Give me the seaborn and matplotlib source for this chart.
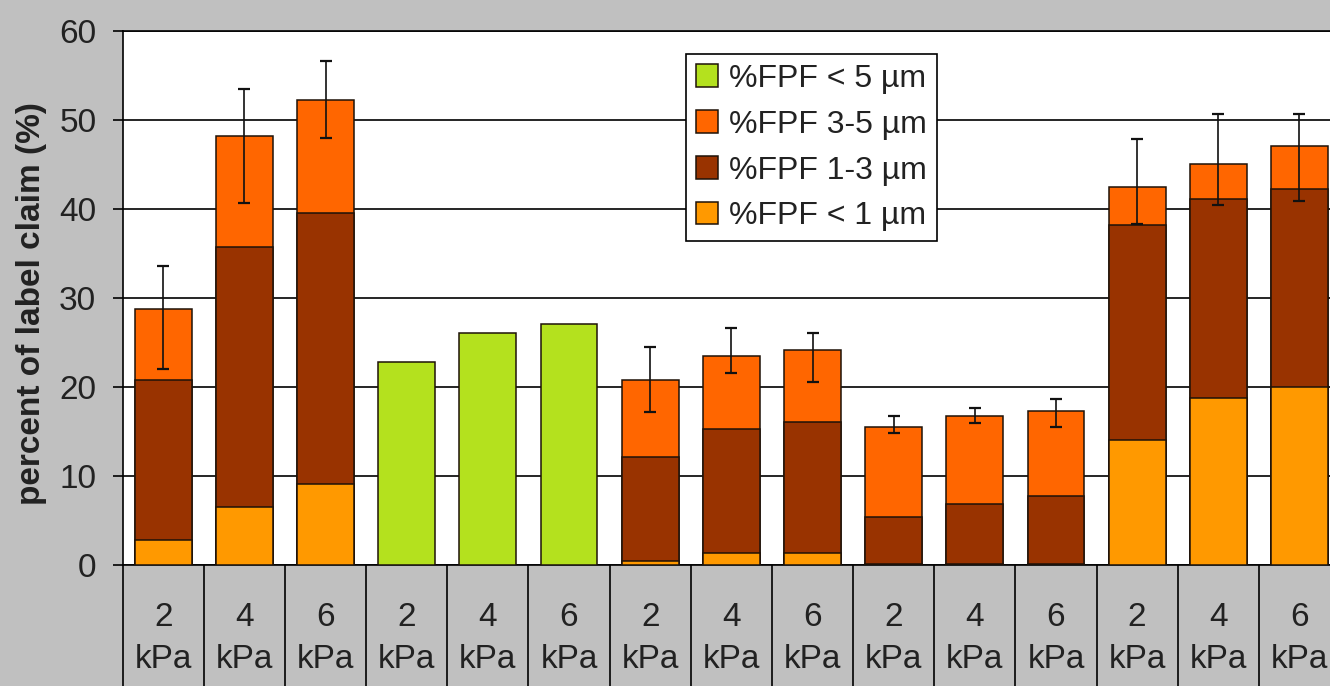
import numpy as np
import pandas as pd
import matplotlib
matplotlib.use("Agg")
import matplotlib.pyplot as plt
import seaborn as sns
from matplotlib.ticker import FixedLocator

# ---- data -------------------------------------------------------------
pressures = ["2", "4", "6"] * 5
tick_labels = [f"{p}\nkPa" for p in pressures]
slots = [f"s{i:02d}" for i in range(len(pressures))]

nan = np.nan
fpf_lt1 = [2.8, 6.5, 9.1, nan, nan, nan, 0.5, 1.4, 1.4, 0.1, 0.1, 0.1, 14.0, 18.8, 20.0]
fpf_1_3 = [18.0, 29.2, 30.4, nan, nan, nan, 11.6, 13.9, 14.7, 5.3, 6.7, 7.7, 24.2, 22.3, 22.3]
fpf_3_5 = [8.0, 12.5, 12.8, nan, nan, nan, 8.7, 8.2, 8.1, 10.1, 9.9, 9.5, 4.3, 4.0, 4.8]
fpf_lt5 = [nan, nan, nan, 22.8, 26.1, 27.1, nan, nan, nan, nan, nan, nan, nan, nan, nan]
err_minus = [6.8, 7.5, 4.3, nan, nan, nan, 3.6, 1.9, 3.6, 0.7, 0.7, 1.8, 4.2, 4.7, 6.2]
err_plus = [4.8, 5.3, 4.3, nan, nan, nan, 3.7, 3.1, 1.9, 1.2, 0.9, 1.35, 5.4, 5.6, 3.6]

series_names = ["%FPF < 5 µm", "%FPF 3-5 µm", "%FPF 1-3 µm", "%FPF < 1 µm"]
series_colors = ["#b4e11e", "#ff6600", "#993300", "#ff9900"]

# ---- stacked tops -------------------------------------------------------
lt1 = np.array(fpf_lt1)
top_1_3 = lt1 + np.array(fpf_1_3)
top_3_5 = top_1_3 + np.array(fpf_3_5)

df = pd.DataFrame({
    "slot": slots,
    "lt5": fpf_lt5,
    "top_3_5": top_3_5,
    "top_1_3": top_1_3,
    "top_lt1": lt1,
})

sns.set_theme(style="white")
plt.rcParams["font.family"] = ["Liberation Sans", "DejaVu Sans"]

W, H = 1330, 686
fig = plt.figure(figsize=(W / 100, H / 100), dpi=100, facecolor="#c0c0c0")
x_left, x_right = 122.7, 1340.0
y_top, y_bot = 31.0, 565.0
ax = fig.add_axes([x_left / W, 1 - y_bot / H, (x_right - x_left) / W, (y_bot - y_top) / H])
ax.set_facecolor("white")

edge = "#1e1208"
bar_kws = dict(order=slots, width=0.7, saturation=1, errorbar=None,
               edgecolor=edge, linewidth=1.1, ax=ax, zorder=3)

sns.barplot(data=df, x="slot", y="lt5", color=series_colors[0], label=series_names[0], **bar_kws)
sns.barplot(data=df, x="slot", y="top_3_5", color=series_colors[1], label=series_names[1], **bar_kws)
sns.barplot(data=df, x="slot", y="top_1_3", color=series_colors[2], label=series_names[2], **bar_kws)
sns.barplot(data=df, x="slot", y="top_lt1", color=series_colors[3], label=series_names[3], **bar_kws)

# error bars on the stacked totals
xpos = np.arange(len(slots))
ax.errorbar(xpos, top_3_5, yerr=[err_minus, err_plus], fmt="none", ecolor="#111111",
            elinewidth=1.2, capsize=4.3, capthick=1.6, zorder=4)

# ---- axes ---------------------------------------------------------------
ax.set_xlim(-0.5, len(slots) - 0.5)
ax.set_ylim(0, 60)
ax.set_yticks(np.arange(0, 61, 10))
ax.yaxis.grid(True, color="black", linewidth=1.2, zorder=0)
ax.set_axisbelow(True)

ax.set_xticks(xpos)
ax.set_xticklabels(tick_labels, fontsize=24, color="#222222", linespacing=1.45)
ax.xaxis.set_minor_locator(FixedLocator(np.arange(-0.5, len(slots), 1.0)))
ax.tick_params(axis="x", which="major", length=0, pad=27)
ax.tick_params(axis="x", which="minor", length=95, width=1.2, color="black",
               direction="out", bottom=True)
ax.tick_params(axis="y", which="major", length=7, width=1.2, color="black",
               direction="out", left=True, labelsize=24, labelcolor="#222222", pad=12)

ax.spines["right"].set_visible(False)
for side in ("left", "bottom", "top"):
    ax.spines[side].set_visible(True)
    ax.spines[side].set_color("black")
    ax.spines[side].set_linewidth(1.2)

ax.set_xlabel("")
ax.set_ylabel("percent of label claim (%)", fontsize=24, fontweight="bold", color="#222222")
ax.yaxis.set_label_coords(-0.062, 0.49)

# ---- legend -------------------------------------------------------------
handles, labels = ax.get_legend_handles_labels()
lookup = dict(zip(labels, handles))
leg = ax.legend([lookup[n] for n in series_names], series_names,
                loc="upper left", bbox_to_anchor=(686 / W, 1 - 54 / H),
                bbox_transform=fig.transFigure, borderaxespad=0,
                fontsize=23, frameon=True, fancybox=False, framealpha=1,
                edgecolor="black", facecolor="white",
                handlelength=0.7, handleheight=0.7, handletextpad=0.35,
                labelspacing=0.5, borderpad=0.3)
leg.get_frame().set_linewidth(1.2)
for t in leg.get_texts():
    t.set_color("#222222")

fig.savefig("out.png", dpi=100, facecolor=fig.get_facecolor())
